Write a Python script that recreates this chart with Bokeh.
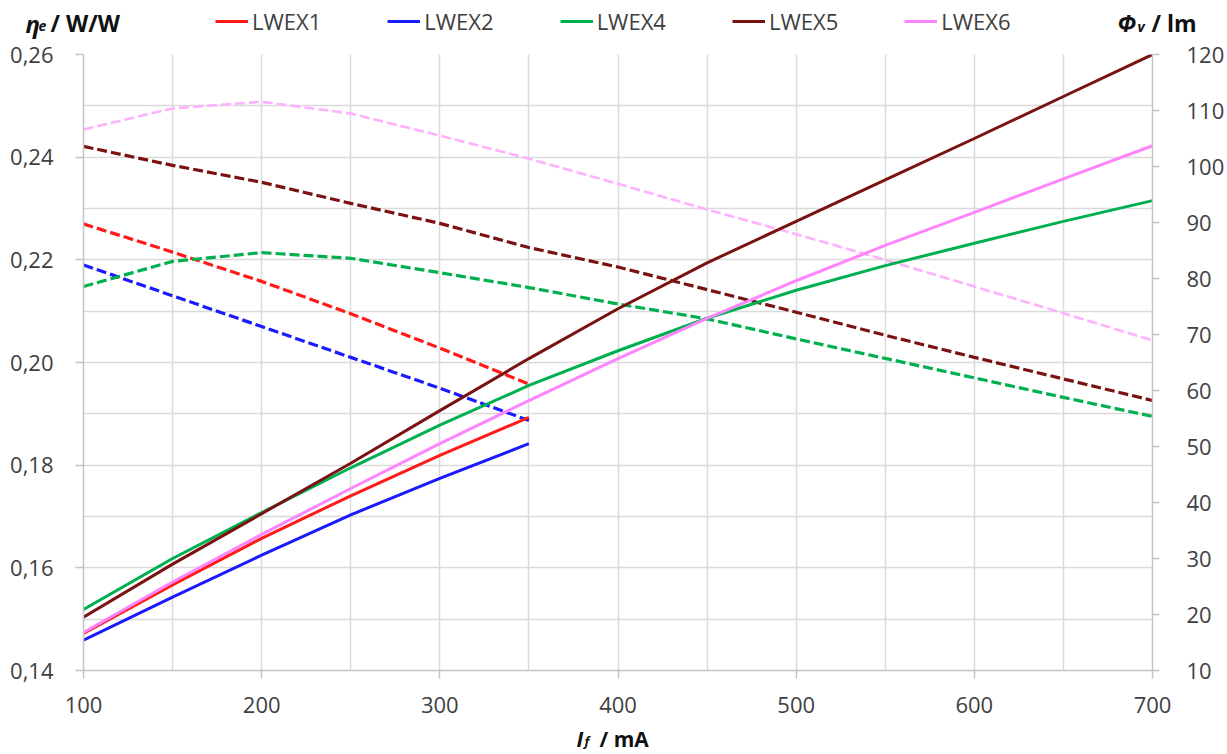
from bokeh.plotting import figure
from bokeh.layouts import column
from bokeh.models import (Range1d, LinearAxis, SingleIntervalTicker, CustomJSTickFormatter,
                          Legend, LegendItem, Label)
from bokeh.embed import file_html
from bokeh.resources import INLINE

# ---------------- data ----------------
current_short = [100, 150, 200, 250, 300, 350]
current_long = [100, 150, 200, 250, 300, 350, 400, 450, 500, 550, 600, 650, 700]

series_names = ["LWEX1", "LWEX2", "LWEX4", "LWEX5", "LWEX6"]

eff_LWEX1 = [0.2270, 0.2215, 0.2158, 0.2095, 0.2028, 0.1958]
eff_LWEX2 = [0.2190, 0.2130, 0.2070, 0.2010, 0.1950, 0.1887]
eff_LWEX4 = [0.2148, 0.2197, 0.2214, 0.2203, 0.2175, 0.2146, 0.2114,
             0.2085, 0.2046, 0.2008, 0.1970, 0.1932, 0.1895]
eff_LWEX5 = [0.2421, 0.2384, 0.2351, 0.2310, 0.2271, 0.2224, 0.2186,
             0.2142, 0.2098, 0.2053, 0.2010, 0.1968, 0.1926]
eff_LWEX6 = [0.2454, 0.2495, 0.2508, 0.2485, 0.2442, 0.2397, 0.2348,
             0.2298, 0.2250, 0.2200, 0.2148, 0.2096, 0.2043]

flux_LWEX1 = [16.6, 25.3, 33.6, 41.2, 48.4, 55.2]
flux_LWEX2 = [15.4, 23.1, 30.6, 37.8, 44.3, 50.5]
flux_LWEX4 = [20.9, 30.0, 38.2, 46.2, 53.8, 60.9, 67.1, 72.9, 77.9, 82.3, 86.3, 90.2, 93.9]
flux_LWEX5 = [19.5, 29.0, 38.0, 47.0, 56.4, 65.7, 74.6, 82.8, 90.2, 97.6, 105.0, 112.5, 120.0]
flux_LWEX6 = [16.8, 25.8, 34.3, 42.5, 50.5, 58.2, 65.7, 72.9, 79.6, 85.9, 91.8, 97.8, 103.7]

x_range = (100, 700)
eff_range = (0.14, 0.26)
flux_range = (10, 120)

# ---------------- styles ----------------
FONT = "Open Sans"
TICK_COLOR = "#404040"
TITLE_COLOR = "#111111"
GRID_COLOR = "#DADADA"
AXIS_COLOR = "#C4C4C4"
W = 1227

colors = {"LWEX1": "#FF1A1A", "LWEX2": "#1A1AFF", "LWEX4": "#00B050",
          "LWEX5": "#7A1212", "LWEX6": "#FF85FF"}
dash_colors = {"LWEX1": "#FF1A1A", "LWEX2": "#1A1AFF", "LWEX4": "#00B050",
               "LWEX5": "#7A1212", "LWEX6": "#FFB0FF"}

HEADER_H = 39
MAIN_H = 682
FOOTER_H = 32
BASELINE_FIX = 7  # rendered alphabetic baseline sits this much lower than requested

eff_data = {"LWEX1": (current_short, eff_LWEX1), "LWEX2": (current_short, eff_LWEX2),
            "LWEX4": (current_long, eff_LWEX4), "LWEX5": (current_long, eff_LWEX5),
            "LWEX6": (current_long, eff_LWEX6)}
flux_data = {"LWEX1": (current_short, flux_LWEX1), "LWEX2": (current_short, flux_LWEX2),
             "LWEX4": (current_long, flux_LWEX4), "LWEX5": (current_long, flux_LWEX5),
             "LWEX6": (current_long, flux_LWEX6)}


def blank_fig(h):
    f = figure(width=W, height=h, output_backend="svg", toolbar_location=None,
               x_range=Range1d(0, W), y_range=Range1d(0, h),
               min_border=0, min_border_left=0, min_border_right=0,
               min_border_top=0, min_border_bottom=0)
    f.frame_align = False
    f.axis.visible = False
    f.grid.visible = False
    f.outline_line_color = None
    return f


def lab(fig, h, top, x, y, text, size, style="bold", color=TITLE_COLOR):
    # x, y = page pixels of the wanted baseline; converted into the small figure's frame
    fig.add_layout(Label(x=x, y=h - (y - BASELINE_FIX - top), text=text, text_font=FONT,
                         text_font_size=size, text_font_style=style, text_color=color,
                         text_align="left", text_baseline="alphabetic"))


# ---------------- header: axis titles + legend ----------------
header = blank_fig(HEADER_H)
header.extra_x_ranges = {"off": Range1d(-3000, -2000)}   # keeps legend helper lines out of view
lab(header, HEADER_H, 0, 25, 29.5, "η", "24px", "bold italic")
lab(header, HEADER_H, 0, 38, 32.5, "e", "14px", "bold italic")
lab(header, HEADER_H, 0, 50, 29.5, "/ W/W", "23px", "bold")
lab(header, HEADER_H, 0, 1117, 29.5, "Φ", "23px", "bold italic")
lab(header, HEADER_H, 0, 1137, 32.5, "v", "14px", "bold italic")
lab(header, HEADER_H, 0, 1151, 29.5, "/ lm", "23px", "bold")

legend_items = []
for name in series_names:
    xs, ys = flux_data[name]
    r = header.line(xs, ys, line_color=colors[name], line_width=3, x_range_name="off")
    legend_items.append(LegendItem(label=name, renderers=[r]))
legend = Legend(items=legend_items, orientation="horizontal", location=(215, 3),
                label_text_font=FONT, label_text_font_size="22px", label_text_color=TICK_COLOR,
                glyph_width=33, label_standoff=4, spacing=66, padding=0, margin=0,
                border_line_color=None, background_fill_alpha=0)
header.add_layout(legend, "center")

# ---------------- main plot ----------------
p = figure(width=W, height=MAIN_H, output_backend="svg", toolbar_location=None,
           x_range=Range1d(*x_range), y_range=Range1d(*eff_range),
           min_border_left=83, min_border_right=75, min_border_top=15, min_border_bottom=51)
p.frame_align = False
p.extra_y_ranges = {"flux": Range1d(*flux_range)}
p.outline_line_color = None

p.xgrid.ticker = SingleIntervalTicker(interval=50, num_minor_ticks=0)
p.ygrid.ticker = SingleIntervalTicker(interval=0.01, num_minor_ticks=0)
for g in (p.xgrid[0], p.ygrid[0]):
    g.grid_line_color = GRID_COLOR
    g.grid_line_width = 1.5


def style_axis(ax):
    ax.axis_line_color = AXIS_COLOR
    ax.axis_line_width = 1.5
    ax.major_tick_line_color = AXIS_COLOR
    ax.major_tick_line_width = 1.5
    ax.major_tick_out = 8
    ax.major_tick_in = 0
    ax.minor_tick_line_color = None
    ax.major_label_text_font = FONT
    ax.major_label_text_font_size = "22px"
    ax.major_label_text_color = TICK_COLOR


xa = p.xaxis[0]
xa.ticker = SingleIntervalTicker(interval=100, num_minor_ticks=0)
style_axis(xa)
xa.major_label_standoff = 18

ya = p.yaxis[0]
ya.ticker = SingleIntervalTicker(interval=0.02, num_minor_ticks=0)
ya.formatter = CustomJSTickFormatter(code="return tick.toFixed(2).replace('.', ',');")
style_axis(ya)
ya.major_label_standoff = 22

ra = LinearAxis(y_range_name="flux", ticker=SingleIntervalTicker(interval=10, num_minor_ticks=0))
style_axis(ra)
ra.major_tick_out = 7
ra.major_label_standoff = 27
p.add_layout(ra, "right")

for name in series_names:
    xs, ys = eff_data[name]
    p.line(xs, ys, line_color=dash_colors[name],
           line_width=3.2 if name != "LWEX6" else 2.6, line_dash="10 4")
for name in series_names:
    xs, ys = flux_data[name]
    p.line(xs, ys, line_color=colors[name], line_width=3, y_range_name="flux")

# ---------------- footer: x-axis title ----------------
FOOT_TOP = HEADER_H + MAIN_H
footer = blank_fig(FOOTER_H)
lab(footer, FOOTER_H, FOOT_TOP, 576, 745, "I", "21px", "bold italic")
lab(footer, FOOTER_H, FOOT_TOP, 584, 747, "f", "13px", "bold italic")
lab(footer, FOOTER_H, FOOT_TOP, 599, 745, "/ mA", "21px", "bold")

layout = column(header, p, footer, spacing=0)
open("out.html", "w").write(file_html(layout, INLINE))
